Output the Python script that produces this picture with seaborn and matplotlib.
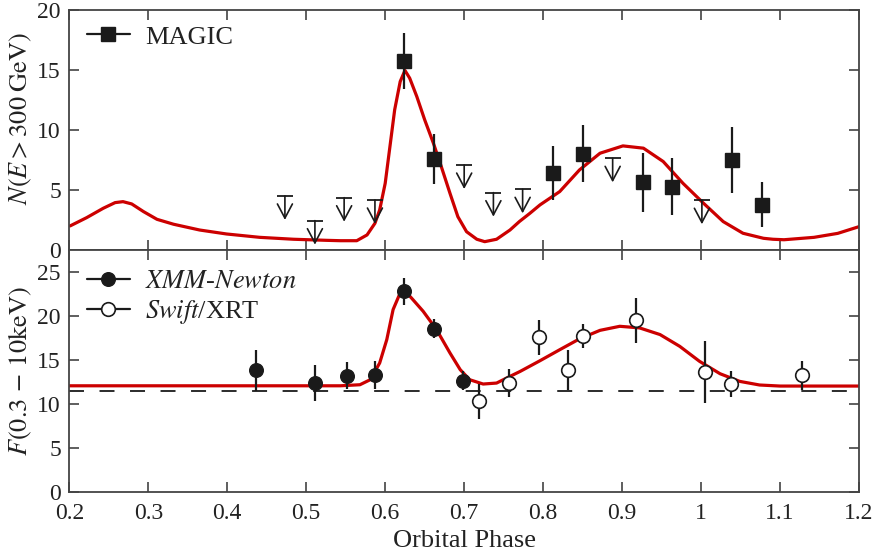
import numpy as np
import pandas as pd
import matplotlib
matplotlib.use("Agg")
import matplotlib.pyplot as plt
import seaborn as sns
from matplotlib.lines import Line2D
from matplotlib.ticker import FuncFormatter

# --- MAGIC detections (top panel) ---
magic_phase = [0.624, 0.662, 0.813, 0.851, 0.926, 0.963, 1.039, 1.077]
magic_flux = [15.75, 7.6, 6.4, 8.05, 5.65, 5.3, 7.5, 3.8]
magic_err = [2.3, 2.1, 2.25, 2.35, 2.45, 2.4, 2.75, 1.9]

# --- MAGIC upper limits ---
ul_phase = [0.473, 0.511, 0.548, 0.587, 0.700, 0.737, 0.774, 0.888, 1.001]
ul_flux = [4.53, 2.47, 4.38, 4.19, 7.1, 4.8, 5.08, 7.66, 4.17]

# --- model curve, top panel ---
model_top_phase = [0.201, 0.222, 0.243, 0.258, 0.268, 0.279, 0.294, 0.311, 0.332,
                   0.365, 0.399, 0.441, 0.484, 0.526, 0.543, 0.564, 0.577, 0.587,
                   0.593, 0.600, 0.606, 0.612, 0.619, 0.625, 0.631, 0.640, 0.650,
                   0.661, 0.671, 0.682, 0.692, 0.703, 0.716, 0.726, 0.741, 0.758,
                   0.770, 0.783, 0.796, 0.821, 0.846, 0.872, 0.901, 0.927, 0.952,
                   0.977, 1.003, 1.028, 1.053, 1.079, 1.091, 1.105, 1.143, 1.173,
                   1.200]
model_top_flux = [2.03, 2.72, 3.5, 3.97, 4.05, 3.86, 3.22, 2.58, 2.17,
                  1.69, 1.36, 1.08, 0.92, 0.83, 0.8, 0.8, 1.28, 2.25,
                  3.36, 5.58, 8.64, 11.7, 14.05, 14.97, 14.33, 12.8, 10.86,
                  8.92, 6.97, 4.75, 2.8, 1.55, 0.92, 0.72, 0.92, 1.69,
                  2.4, 3.07, 3.78, 4.89, 6.69, 8.08, 8.69, 8.5, 7.39,
                  5.58, 3.92, 2.39, 1.42, 1.0, 0.92, 0.88, 1.08, 1.41,
                  1.97]

# --- X-ray points (bottom panel) ---
xmm_phase = [0.437, 0.511, 0.551, 0.587, 0.624, 0.662, 0.699]
xmm_flux = [13.85, 12.37, 13.25, 13.36, 22.85, 18.6, 12.68]
xmm_err = [2.3, 2.05, 1.5, 1.6, 1.55, 1.05, 1.1]

swift_phase = [0.719, 0.757, 0.795, 0.832, 0.851, 0.918, 1.005, 1.038, 1.128]
swift_flux = [10.32, 12.41, 17.6, 13.9, 17.76, 19.55, 13.7, 12.3, 13.28]
swift_err = [1.95, 1.55, 2.0, 2.3, 1.4, 2.55, 3.5, 1.45, 1.65]

# --- model curve, bottom panel ---
model_bot_phase = [0.200, 0.350, 0.500, 0.543, 0.568, 0.581, 0.593, 0.602, 0.610,
                   0.619, 0.625, 0.633, 0.648, 0.665, 0.682, 0.695, 0.707, 0.724,
                   0.741, 0.758, 0.771, 0.796, 0.821, 0.846, 0.872, 0.897, 0.922,
                   0.948, 0.973, 0.998, 1.024, 1.049, 1.074, 1.100, 1.150, 1.200]
model_bot_flux = [12.1, 12.1, 12.1, 12.1, 12.22, 12.79, 14.69, 17.35, 20.76,
                  22.66, 22.85, 22.1, 20.57, 18.48, 15.83, 13.93, 12.79, 12.3,
                  12.41, 13.17, 13.74, 14.95, 16.2, 17.43, 18.4, 18.86, 18.68,
                  17.92, 16.58, 14.88, 13.47, 12.6, 12.19, 12.07, 12.07, 12.07]

baseline_flux = 11.54
ul_arrow = 2.0

sns.set_theme(style="ticks")
plt.rcParams["font.family"] = ["Liberation Serif", "DejaVu Serif"]
plt.rcParams["mathtext.fontset"] = "stix"
plt.rcParams["xtick.direction"] = "in"
plt.rcParams["ytick.direction"] = "in"
plt.rcParams["xtick.top"] = True
plt.rcParams["ytick.right"] = True
plt.rcParams["xtick.major.size"] = 7.5
plt.rcParams["ytick.major.size"] = 7.5
plt.rcParams["axes.edgecolor"] = "#444444"
plt.rcParams["axes.linewidth"] = 1.3

red = "#cc0000"
txt = "#222222"
fs_tick = 17
fs_label = 19
fs_leg = 19

fig = plt.figure(figsize=(8.74, 5.56), dpi=100)
ax1 = fig.add_axes([0.0793, 0.5498, 0.9036, 0.4322])
ax2 = fig.add_axes([0.0793, 0.1146, 0.9036, 0.4353])

top_df = pd.DataFrame({"phase": model_top_phase, "flux": model_top_flux})
bot_df = pd.DataFrame({"phase": model_bot_phase, "flux": model_bot_flux})

# top panel
sns.lineplot(data=top_df, x="phase", y="flux", ax=ax1, color=red, lw=2.3,
             sort=False, zorder=2)
ax1.errorbar(magic_phase, magic_flux, yerr=magic_err, fmt="s", color="k",
             ms=9.6, elinewidth=1.6, capsize=0, zorder=3)
for x, y in zip(ul_phase, ul_flux):
    ax1.plot([x], [y], marker="_", ms=11, mew=1.3, color="k", zorder=3)
    ax1.annotate("", xy=(x, y - ul_arrow), xytext=(x, y),
                 arrowprops=dict(arrowstyle="->,head_length=0.85,head_width=0.45",
                                 lw=1.2, color="k", shrinkA=0, shrinkB=0),
                 zorder=3)

ax1.set_xlim(0.2, 1.2)
ax1.set_ylim(0, 20)
ax1.set_yticks([0, 5, 10, 15, 20])
ax1.set_xticks(np.arange(0.2, 1.21, 0.1))
ax1.tick_params(labelbottom=False, labelsize=fs_tick, labelcolor=txt,
                color="#333333", width=1.1, pad=6)
ax1.set_xlabel("")
ax1.set_ylabel(r"$N(E > 300\;\mathrm{GeV})$", fontsize=fs_label, color=txt)

h_magic = Line2D([], [], color="k", lw=1.6, marker="s", ms=9.6)
ax1.legend([h_magic], ["MAGIC"], loc="center left",
           bbox_to_anchor=(0.022, 0.888), frameon=False, fontsize=fs_leg,
           handlelength=1.65, handletextpad=0.55, borderpad=0,
           borderaxespad=0, labelcolor=txt)

# bottom panel
sns.lineplot(data=bot_df, x="phase", y="flux", ax=ax2, color=red, lw=2.3,
             sort=False, zorder=2)
ax2.axhline(baseline_flux, color="k", lw=1.3, ls=(0, (8.3, 8.6)), zorder=1)
ax2.errorbar(xmm_phase, xmm_flux, yerr=xmm_err, fmt="o", color="k",
             ms=9.8, elinewidth=1.6, capsize=0, zorder=3)
ax2.errorbar(swift_phase, swift_flux, yerr=swift_err, fmt="o", color="k",
             mfc="white", mec="k", mew=1.2, ms=9.8, elinewidth=1.6, capsize=0,
             zorder=3)

ax2.set_xlim(0.2, 1.2)
ax2.set_ylim(0, 27.5)
ax2.set_yticks([0, 5, 10, 15, 20, 25])
ax2.set_xticks(np.arange(0.2, 1.21, 0.1))
ax2.xaxis.set_major_formatter(FuncFormatter(lambda v, p: f"{v:g}"))
ax2.tick_params(labelsize=fs_tick, labelcolor=txt, color="#333333",
                width=1.1, pad=6)
ax2.tick_params(axis="x", pad=8)
ax2.set_xlabel("Orbital Phase", fontsize=fs_label, color=txt, labelpad=4)
ax2.set_ylabel(r"$F(0.3\,-\,10\mathrm{keV})$", fontsize=fs_label, color=txt)

h_xmm = Line2D([], [], color="k", lw=1.6, marker="o", ms=9.8)
h_swift = Line2D([], [], color="k", lw=1.6, marker="o", ms=9.8, mfc="white",
                 mew=1.2)
ax2.legend([h_xmm, h_swift], [r"$\mathit{XMM}$-$\mathit{Newton}$",
                              r"$\mathit{Swift}$/XRT"],
           loc="center left", bbox_to_anchor=(0.022, 0.803), frameon=False,
           fontsize=fs_leg, handlelength=1.65, handletextpad=0.55,
           borderpad=0, borderaxespad=0, labelspacing=0.2, labelcolor=txt)

ax1.yaxis.set_label_coords(-0.045, 0.55)
ax2.yaxis.set_label_coords(-0.045, 0.5)

fig.savefig("out.png", dpi=100)
